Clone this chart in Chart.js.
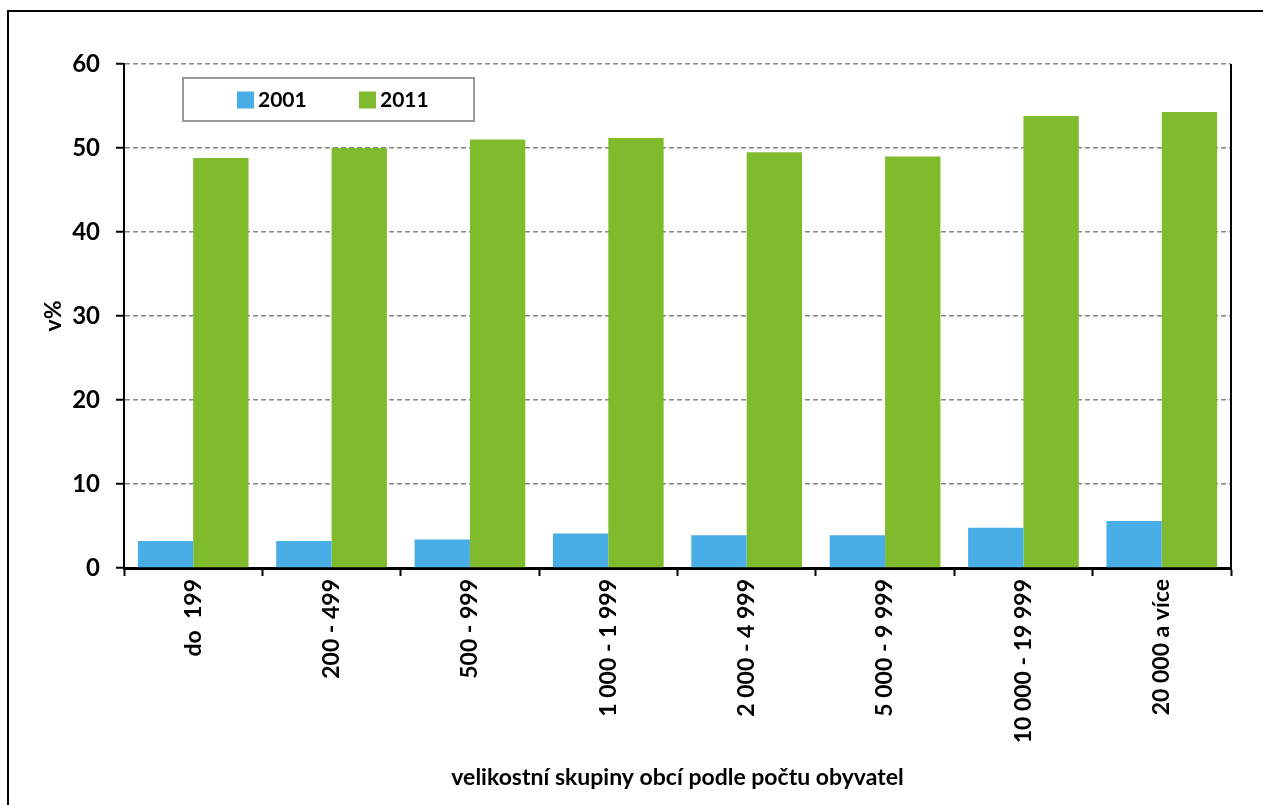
<!DOCTYPE html>
<html>
<head>
<meta charset="utf-8">
<script src="https://cdn.jsdelivr.net/npm/chart.js@4"></script>
<style>
    html, body { margin: 0; padding: 0; background: #fff; overflow: hidden; }
    #wrap { position: relative; width: 1263px; height: 805px; }
    #frame { position: absolute; left: 7px; top: 10px; width: 1300px; height: 900px; border: 2px solid #000; box-sizing: border-box; }
    #chart { position: absolute; left: 0; top: 0; }
</style>
</head>
<body>
<div id="wrap">
    <div id="frame"></div>
    <canvas id="chart" width="1263" height="805"></canvas>
</div>
<script>
const categories = ['do  199', '200 - 499', '500 - 999', '1 000 - 1 999', '2 000 - 4 999', '5 000 - 9 999', '10 000 - 19 999', '20 000 a více'];
const values2001 = [3.2, 3.2, 3.4, 4.1, 3.9, 3.9, 4.8, 5.6];
const values2011 = [48.8, 50.0, 51.0, 51.2, 49.5, 49.0, 53.8, 54.3];
const seriesLabels = ['2001', '2011'];
const yTicks = [0, 10, 20, 30, 40, 50, 60];

const FONT = 'Lato, "Open Sans", sans-serif';

// legend box inside the plot and the right edge of the plot frame
const framePlugin = {
    id: 'framePlugin',
    afterDraw(chart) {
        const ctx = chart.ctx;
        const area = chart.chartArea;
        ctx.save();
        ctx.strokeStyle = '#000';
        ctx.lineWidth = 2;
        ctx.beginPath();
        ctx.moveTo(area.right, area.top);
        ctx.lineTo(area.right, area.bottom);
        ctx.stroke();

        // legend
        const bx = 183, by = 78, bw = 291, bh = 43;
        ctx.fillStyle = '#fff';
        ctx.fillRect(bx, by, bw, bh);
        ctx.strokeStyle = '#999';
        ctx.lineWidth = 2;
        ctx.strokeRect(bx, by, bw, bh);
        const xs = [237, 359];
        ctx.font = 'bold 21px ' + FONT;
        ctx.textBaseline = 'middle';
        chart.data.datasets.forEach((ds, i) => {
            ctx.fillStyle = ds.backgroundColor;
            ctx.fillRect(xs[i], by + bh / 2 - 8, 17, 17);
            ctx.fillStyle = '#000';
            ctx.fillText(ds.label, xs[i] + 21, by + bh / 2 + 1);
        });
        ctx.restore();
    }
};

new Chart(document.getElementById('chart').getContext('2d'), {
    type: 'bar',
    data: {
        labels: categories,
        datasets: [{
            label: seriesLabels[0],
            data: values2001,
            backgroundColor: '#4aaee6',
            categoryPercentage: 0.8,
            barPercentage: 1.0
        }, {
            label: seriesLabels[1],
            data: values2011,
            backgroundColor: '#80bb2e',
            categoryPercentage: 0.8,
            barPercentage: 1.0
        }]
    },
    options: {
        responsive: false,
        animation: false,
        devicePixelRatio: 1,
        layout: {
            padding: { left: 40, top: 64, right: 32, bottom: 14 }
        },
        plugins: {
            legend: { display: false },
            tooltip: { enabled: false }
        },
        scales: {
            x: {
                grid: {
                    drawOnChartArea: false,
                    drawTicks: true,
                    tickLength: 8,
                    tickColor: '#000',
                    tickWidth: 2,
                    offset: true
                },
                border: { display: true, color: '#000', width: 3 },
                ticks: {
                    color: '#000',
                    font: { family: FONT, size: 23, weight: 'bold' },
                    minRotation: 90,
                    maxRotation: 90,
                    padding: 3,
                    autoSkip: false
                },
                title: {
                    display: true,
                    text: 'velikostní skupiny obcí podle počtu obyvatel',
                    color: '#000',
                    font: { family: FONT, size: 23, weight: 'bold' },
                    padding: { top: 10, bottom: 0 }
                },
                afterFit(scale) { scale.height = 223; }
            },
            y: {
                min: 0,
                max: 60,
                afterBuildTicks(scale) {
                    scale.ticks = yTicks.map(v => ({ value: v }));
                },
                grid: {
                    color: ctx => ctx.tick && ctx.tick.value === 0 ? 'rgba(0,0,0,0)' : '#888',
                    lineWidth: 1.5,
                    tickColor: '#000',
                    tickWidth: 2,
                    tickLength: 8,
                    tickBorderDash: []
                },
                border: { display: true, color: '#000', width: 2, dash: [5, 3] },
                ticks: {
                    color: '#000',
                    font: { family: FONT, size: 24, weight: 'bold' },
                    padding: 16
                },
                title: {
                    display: true,
                    text: 'v%',
                    color: '#000',
                    font: { family: FONT, size: 23, weight: 'bold' },
                    padding: { top: 0, bottom: 0 }
                },
                afterFit(scale) { scale.width = 84; }
            }
        }
    },
    plugins: [framePlugin]
});
</script>
</body>
</html>
